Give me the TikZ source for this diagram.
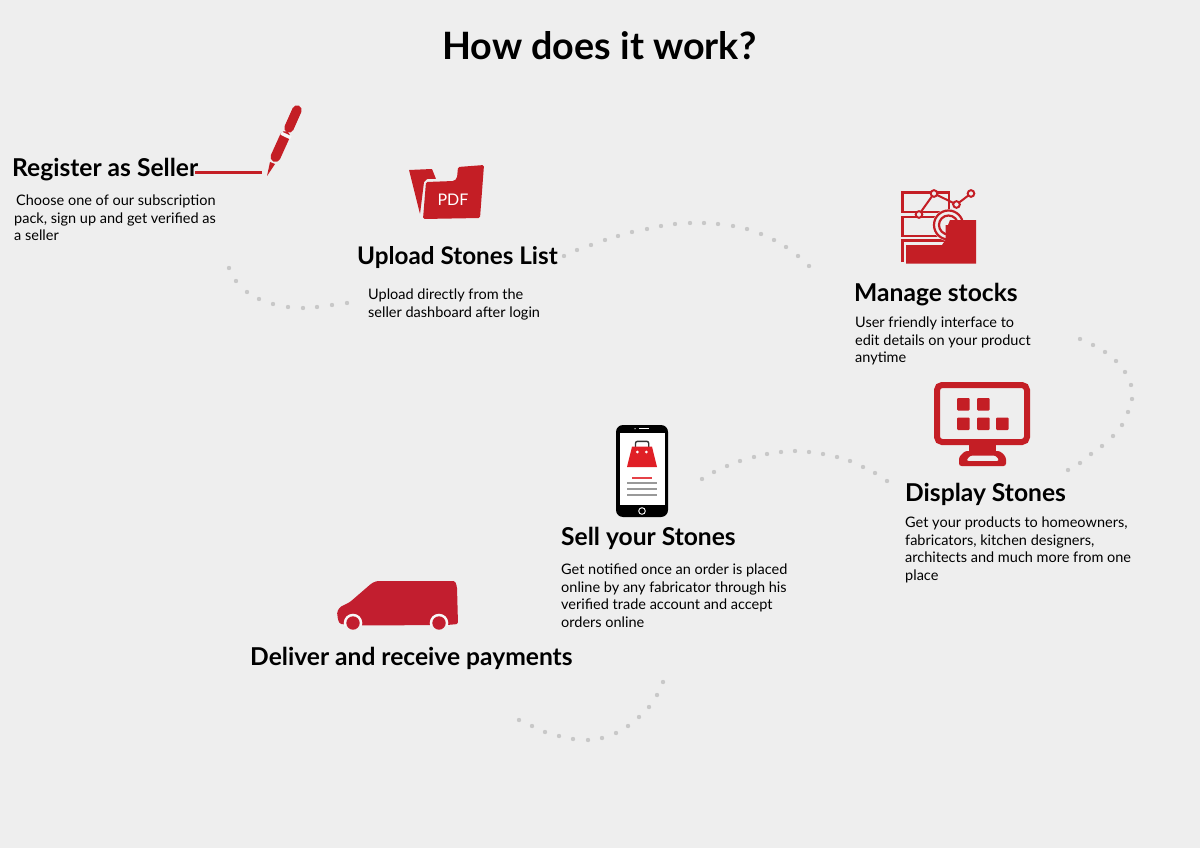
\documentclass[tikz,border=0pt]{standalone}
\usepackage{fontspec}
\setmainfont{Lato}
\definecolor{bgc}{HTML}{EEEEEE}
\definecolor{redc}{HTML}{C41E25}
\definecolor{vanc}{HTML}{C21E2F}
\definecolor{bagc}{HTML}{E01F26}
\definecolor{dotc}{HTML}{C8C8C8}
\tikzset{
  titletext/.style={anchor=base west,inner sep=0pt,font=\fontsize{37.7}{44}\selectfont\bfseries},
  headtext/.style={anchor=base west,inner sep=0pt,font=\fontsize{24.6}{28}\selectfont\bfseries},
  bodytext/.style={anchor=north west,inner sep=0pt,align=left,font=\fontsize{14.5}{17.5}\selectfont},
  dotmark/.style={fill=dotc,draw=none},
  redfill/.style={fill=redc,draw=none},
  redline/.style={draw=redc,fill=none},
  ringdot/.style={draw=redc,fill=bgc,line width=2pt},
}
\begin{document}
\begin{tikzpicture}[x=1pt,y=-1pt]
\fill[bgc] (0,0) rectangle (1200,848);
\useasboundingbox (0,0) rectangle (1200,848);

% dotted trails
\foreach \p in {(229,268),(236,281),(247,292),(259,299),(273,304),(288,307),(303,308),(317,307),(332,305),(347,303),
 (564,256),(577,250),(591,245),(605,240),(618,236),(632,232),(647,229),(661,226),(675,224),(690,223),(704,223),(718,224),(733,226),(747,229),(761,234),(774,240),(786,247),(798,256),(809,266),
 (1080,339),(1093,345),(1105,352),(1116,361),(1125,372),(1131,385),(1132,399),(1128,412),(1122,425),(1113,436),(1102,446),(1091,454),(1080,463),(1068,470),
 (702,479),(714,472),(727,466),(740,461),(754,457),(767,454),(781,452),(795,451),(809,452),(823,454),(837,457),(850,461),(863,467),(875,473),(887,481),
 (519,720),(532,726),(545,732),(559,736),(573,739),(588,740),(602,738),(616,733),(628,726),(639,717),(649,707),(657,695),(663,682)}
  \fill[dotmark] \p circle (2.2);

% title
\node[titletext] (title) at (442,60) {How does it work?};

% Register
\node[headtext] (h1) at (12,176.5) {Register as Seller};
\node[bodytext] (b1) at (14,195) {\hspace{2pt}Choose one of our subscription\\pack, sign up and get verified as\\a seller};
\draw[redc,line width=3pt] (195,173) -- (262,173);
\fill[redc] (267,176) -- (270,162) -- (275,164) -- cycle;
\draw[redc,line width=10pt,line cap=round] (275.5,157) -- (285,136);
\draw[redc,line width=9.5pt,line cap=round] (289,128) -- (297,110);
\draw[bgc!40!white,line width=3.4pt] (281.2,133.2) -- (290.8,137.8);

% Upload
\fill[redc,rounded corners=0.5pt] (409,170) -- (432,169) -- (436,179) -- (427,179) -- (424,182) -- (420,214) -- cycle;
\fill[redc,rounded corners=1.5pt] (426,182) -- (454,181) -- (457,178) -- (458,167) -- (484,165) -- (480,218) -- (423,219) -- cycle;
\node[inner sep=0pt,text=white,font=\fontsize{16}{18}\selectfont] (pdf) at (453,200) {PDF};
\node[headtext,font=\fontsize{24.25}{28}\selectfont\bfseries] (h2) at (357,264) {Upload Stones List};
\node[bodytext] (b2) at (368,289) {Upload directly from the\\seller dashboard after login};

% Manage
\draw[redline,line width=2.2pt] (902.5,192.5) rectangle (949,212);
\draw[redline,line width=2.2pt] (902.5,217) rectangle (937,236);
\draw[redline,line width=2.2pt] (902.5,262) -- (902.5,240.5) -- (945,240.5);
\draw[redc,line width=2pt] (919,214.5) -- (934,193.5) -- (956.5,204.5) -- (971,193.5);
\fill[bgc] (948.5,225) circle (16);
\draw[redline,line width=2.2pt] (948.5,225) circle (14.5);
\draw[redline,line width=2.2pt] (948.5,225) circle (9.5);
\fill[redfill] (906,245) -- (942,245) -- (945.5,240) -- (945.5,225) -- (948,225) -- (950,220) -- (976,220) -- (976,263.5) -- (906,263.5) -- cycle;
\foreach \q in {(919,214.5),(934,193.5),(956.5,204.5),(971,193.5)}
  \filldraw[ringdot] \q circle (3.3);
\node[headtext] (h3) at (854,301) {Manage stocks};
\node[bodytext] (b3) at (855,317) {User friendly interface to\\edit details on your product\\anytime};

% Display
\draw[redline,line width=6pt,rounded corners=5pt] (937,385) rectangle (1027,442);
\foreach \a/\b in {957/398,977/398,957/417.5,977/417.5,996/417.5}
  \fill[redfill,rounded corners=1pt] (\a,\b) rectangle ++(12.5,12.5);
\fill[redfill] (969,444) rectangle (996,452);
\fill[redfill,even odd rule,rounded corners=2.5pt] (965,451) -- (1000,451) -- (1006,457) -- (1006,466) -- (959,466) -- (959,457) -- cycle
  (966,461) -- (999.5,461) -- (996,455.5) -- (970,455.5) -- cycle;
\node[headtext] (h4) at (905,501) {Display Stones};
\node[bodytext] (b4) at (905,517) {Get your products to homeowners,\\fabricators, kitchen designers,\\architects and much more from one\\place};

% Phone
\fill[black,rounded corners=7pt] (616,425) rectangle (668,517);
\fill[white] (619.5,432.7) rectangle (664.5,505);
\draw[white,line width=1.2pt] (639,428.7) -- (649,428.7);
\fill[white] (635,428.7) circle (0.7);
\draw[white,line width=0.9pt] (642,511) circle (3.3);
\draw[black!80,line width=1.4pt,rounded corners=2pt] (635.5,447) -- (635.5,441.3) -- (648.7,441.3) -- (648.7,447);
\fill[bagc] (632,446.7) -- (652,446.7) -- (657,467) -- (627,467) -- cycle;
\fill[white] (637.3,452) circle (1.5);
\fill[white] (646.3,452) circle (1.5);
\draw[bagc!85!white,line width=1.5pt] (632,478) -- (652,478);
\foreach \yy in {483,489,495}
  \draw[black!40,line width=1.3pt] (627,\yy) -- (657,\yy);
\node[headtext] (h5) at (561,545) {Sell your Stones};
\node[bodytext] (b5) at (561,564) {Get notified once an order is placed\\online by any fabricator through his\\verified trade account and accept\\orders online};

% Van
\begin{scope}
\clip (330,570) rectangle (470,625.5);
\fill[vanc,rounded corners=1.5pt] (337,612) -- (340,607) -- (350,602) -- (372,583) -- (377,581) -- (455,581) -- (457,587) -- (458,624) -- (447,625) -- (360,625.5) -- (340,624) -- (338,620) -- cycle;
\fill[white!60!bgc] (353,623) circle (9.3);
\fill[white!60!bgc] (439,623) circle (9.3);
\end{scope}
\fill[vanc] (353,623) circle (6.7);
\fill[vanc] (439,623) circle (6.7);
\node[headtext] (h6) at (250,665) {Deliver and receive payments};
\end{tikzpicture}
\end{document}
